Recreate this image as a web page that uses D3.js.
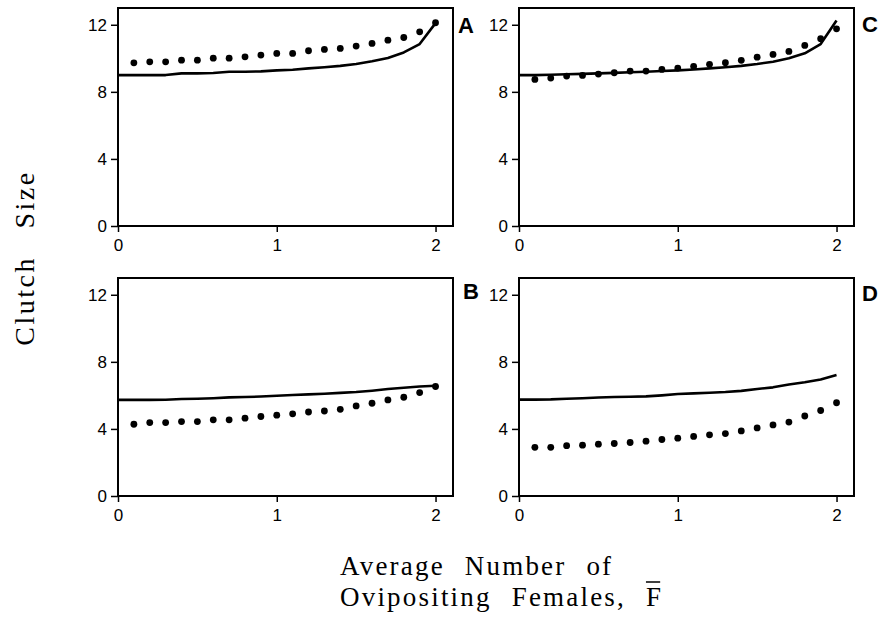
<!DOCTYPE html>
<html>
<head>
<meta charset="utf-8">
<script src="https://cdn.jsdelivr.net/npm/d3@7"></script>
<style>
  body { margin: 0; background: #fff; }
  svg { display: block; }
  .tick line { stroke: #000; stroke-width: 1.5px; }
</style>
</head>
<body>
<svg id="container"></svg>
<script>
// x values of the model points
var xDots = [0.1,0.2,0.3,0.4,0.5,0.6,0.7,0.8,0.9,1.0,1.1,1.2,1.3,1.4,1.5,1.6,1.7,1.8,1.9,2.0];
var xLine = [0,0.1,0.2,0.3,0.4,0.5,0.6,0.7,0.8,0.9,1.0,1.1,1.2,1.3,1.4,1.5,1.6,1.7,1.8,1.9,2.0];
var xTicks = [0, 1, 2];
var yTicks = [0, 4, 8, 12];

// dotted series (simulation)
var dotsA = [9.73,9.79,9.79,9.89,9.89,10.01,10.01,10.09,10.19,10.29,10.29,10.45,10.53,10.59,10.73,10.89,11.08,11.24,11.58,12.12];
var dotsC = [8.74,8.82,8.94,8.98,9.06,9.14,9.24,9.24,9.34,9.42,9.52,9.64,9.74,9.88,10.07,10.23,10.41,10.77,11.17,11.76];
var dotsB = [4.28,4.38,4.38,4.44,4.44,4.54,4.54,4.64,4.74,4.82,4.90,5.01,5.07,5.17,5.37,5.53,5.73,5.89,6.17,6.53];
var dotsD = [2.90,2.90,3.00,3.03,3.09,3.13,3.19,3.27,3.37,3.45,3.55,3.65,3.72,3.88,4.06,4.24,4.41,4.77,5.10,5.56];

// solid series (prediction)
var lineA = [9.0,9.0,9.0,9.0,9.1,9.1,9.12,9.2,9.2,9.22,9.28,9.32,9.4,9.47,9.55,9.66,9.82,10.02,10.35,10.85,12.1];
var lineC = [9.0,9.0,9.02,9.05,9.07,9.1,9.13,9.17,9.2,9.24,9.28,9.33,9.4,9.47,9.55,9.66,9.8,10.0,10.3,10.85,12.25];
var lineB = [5.73,5.73,5.73,5.74,5.78,5.8,5.83,5.88,5.9,5.93,5.98,6.02,6.06,6.1,6.15,6.2,6.28,6.38,6.46,6.53,6.57];
var lineD = [5.75,5.75,5.76,5.8,5.83,5.87,5.9,5.92,5.94,6.0,6.08,6.12,6.16,6.2,6.27,6.38,6.48,6.65,6.78,6.95,7.22];

var W = 882, H = 627;
var pw = 335, ph = 218;
var lefts = [118, 519], tops = [8, 278];

var panels = [
  {name: "A", dots: dotsA, line: lineA, col: 0, row: 0, lx: 458, ly: 33},
  {name: "C", dots: dotsC, line: lineC, col: 1, row: 0, lx: 862, ly: 32},
  {name: "B", dots: dotsB, line: lineB, col: 0, row: 1, lx: 463, ly: 299},
  {name: "D", dots: dotsD, line: lineD, col: 1, row: 1, lx: 862, ly: 301}
];

var svg = d3.select("#container").attr("width", W).attr("height", H);

var xScale = d3.scaleLinear().domain([0, 2.11]).range([0, pw]);
var yScale = d3.scaleLinear().domain([0, 13]).range([ph, 0]);

var tickFont = "Liberation Sans, Arial, sans-serif";

panels.forEach(function(p) {
  var g = svg.append("g")
    .attr("transform", "translate(" + lefts[p.col] + "," + tops[p.row] + ")");

  // axes
  g.append("g")
    .attr("transform", "translate(0," + ph + ")")
    .call(d3.axisBottom(xScale).tickValues(xTicks).tickSize(6).tickPadding(7).tickFormat(d3.format("d")))
    .attr("font-family", tickFont).attr("font-size", 17)
    .call(s => s.select(".domain").remove());
  g.append("g")
    .call(d3.axisLeft(yScale).tickValues(yTicks).tickSize(7).tickPadding(4).tickFormat(d3.format("d")))
    .attr("font-family", tickFont).attr("font-size", 17)
    .call(s => s.select(".domain").remove());

  // frame
  g.append("rect")
    .attr("width", pw).attr("height", ph)
    .attr("fill", "none").attr("stroke", "#000").attr("stroke-width", 2);

  // solid line
  var line = d3.line()
    .x((d, i) => xScale(xLine[i]))
    .y(d => yScale(d));
  g.append("path")
    .datum(p.line)
    .attr("d", line)
    .attr("fill", "none")
    .attr("stroke", "#000")
    .attr("stroke-width", 2.6)
    .attr("stroke-linejoin", "round");

  // dots
  g.selectAll(".dot")
    .data(p.dots)
    .enter()
    .append("circle")
    .attr("class", "dot")
    .attr("cx", (d, i) => xScale(xDots[i]))
    .attr("cy", d => yScale(d))
    .attr("r", 3.4)
    .attr("fill", "#000");

  // panel letter
  svg.append("text")
    .attr("x", p.lx).attr("y", p.ly)
    .attr("font-family", tickFont)
    .attr("font-weight", "bold")
    .attr("font-size", 22)
    .text(p.name);
});

// y label
svg.append("text")
  .attr("transform", "translate(34,258) rotate(-90)")
  .attr("text-anchor", "middle")
  .attr("font-family", "Liberation Serif, Times New Roman, serif")
  .attr("font-size", 28)
  .attr("letter-spacing", 2.5)
  .attr("word-spacing", 18)
  .text("Clutch Size");

// x label
svg.append("text")
  .attr("x", 340).attr("y", 575)
  .attr("font-family", "Liberation Serif, Times New Roman, serif")
  .attr("font-size", 27)
  .attr("letter-spacing", 2.2)
  .attr("word-spacing", 11)
  .text("Average Number of");

var l2 = svg.append("text")
  .attr("x", 340).attr("y", 606)
  .attr("font-family", "Liberation Serif, Times New Roman, serif")
  .attr("font-size", 27)
  .attr("letter-spacing", 2.2)
  .attr("word-spacing", 11);
l2.append("tspan").text("Ovipositing Females, ");
var fbar = l2.append("tspan").text("F");

// bar over F
var bb = fbar.node().getBBox();
svg.append("line")
  .attr("x1", bb.x).attr("x2", bb.x + bb.width - 3)
  .attr("y1", bb.y).attr("y2", bb.y)
  .attr("stroke", "#000").attr("stroke-width", 1.5);
</script>
</body>
</html>
